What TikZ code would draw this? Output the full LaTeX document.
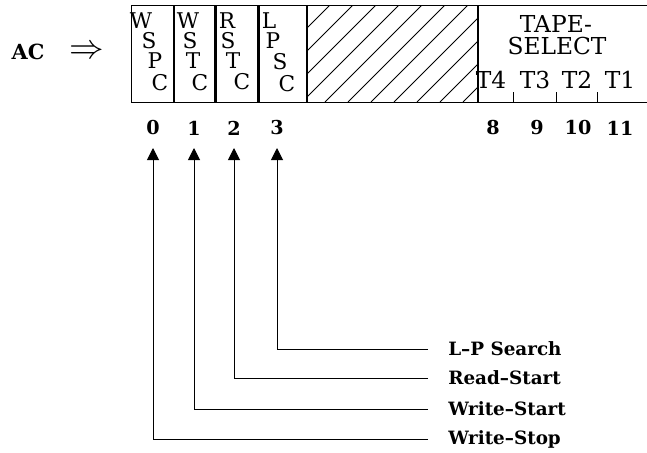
\documentclass[tikz,border=0pt]{standalone}
\usepackage{fontspec}
\setmainfont{DejaVu Serif}
\usetikzlibrary{arrows.meta, positioning}
\tikzset{
    field/.style={
        rectangle,
        draw,
        line width=0.7pt,
        inner sep=0pt,
        minimum height=58.2pt,
        anchor=north west
    },
    ch/.style={
        inner sep=0pt,
        font=\fontsize{13}{14}\selectfont
    },
    tapetxt/.style={
        inner sep=0pt,
        font=\fontsize{14}{15}\selectfont
    },
    bitno/.style={
        inner sep=0pt,
        font=\fontsize{11.5}{13}\selectfont\bfseries
    },
    lbl/.style={
        anchor=west,
        inner sep=0pt,
        font=\fontsize{11}{13}\selectfont\bfseries
    },
    sig/.style={
        -{Triangle[length=7.2pt, width=7.2pt]},
        line width=0.6pt
    }
}

\begin{document}
\begin{tikzpicture}[x=0.6pt, y=-0.6pt]
    \useasboundingbox (0,0) rectangle (647,452);

    % register AC
    \node[font=\fontsize{12.5}{14}\selectfont\bfseries] (ac) at (28,52) {AC};
    \node[inner sep=0pt, font=\fontsize{21}{24}\selectfont] (into) at (87,52) {$\Rightarrow$};

    \node[field, minimum width=25.2pt] (wspc) at (131,5) {};
    \node[field, minimum width=24pt] (wstc) at (wspc.north east) {};
    \node[field, minimum width=25.2pt] (rstc) at (wstc.north east) {};
    \node[field, minimum width=28.2pt] (lpsc) at (rstc.north east) {};
    \node[field, minimum width=102pt] (spare) at (lpsc.north east) {};
    \node[field, minimum width=103.8pt] (tape) at (spare.north east) {};

    % hatching of the unused bits
    \begin{scope}
        \clip (spare.south west) rectangle (spare.north east);
        \foreach \k in {0,...,10}
            \draw[line width=0.6pt] (330+23*\k-97,102) -- (330+23*\k,5);
    \end{scope}

    % field letters
    \node[ch] (w0) at (141,21) {W};
    \node[ch] (s0) at (149,41) {S};
    \node[ch] (p0) at (155,61) {P};
    \node[ch] (c0) at (160,83) {C};

    \node[ch] (w1) at (188,21) {W};
    \node[ch] (s1) at (190,41) {S};
    \node[ch] (t1) at (193,61) {T};
    \node[ch] (c1) at (200,83) {C};

    \node[ch] (r2) at (227,21) {R};
    \node[ch] (s2) at (228,41) {S};
    \node[ch] (t2) at (233,61) {T};
    \node[ch] (c2) at (242,82) {C};

    \node[ch] (l3) at (269,21) {L};
    \node[ch] (p3) at (273,41) {P};
    \node[ch] (s3) at (280,62) {S};
    \node[ch] (c3) at (287,84) {C};

    \node[tapetxt] (tapehd) at (556,24) {TAPE-};
    \node[tapetxt] (selhd) at (557,46) {SELECT};
    \node[tapetxt] (tf) at (491,80) {T4};
    \node[tapetxt] (tt) at (535,80) {T3};
    \node[tapetxt] (ts) at (577,80) {T2};
    \node[tapetxt] (to) at (620,80) {T1};
    \foreach \x in {513,556,597}
        \draw[line width=0.6pt] (\x,92) -- (\x,102);

    % bit numbers
    \node[bitno] (b0) at (153,128) {0};
    \node[bitno] (b1) at (194,128) {1};
    \node[bitno] (b2) at (234,128) {2};
    \node[bitno] (b3) at (277,128) {3};
    \node[bitno] (b8) at (493,128) {8};
    \node[bitno] (b9) at (537,128) {9};
    \node[bitno] (b10) at (578,128) {10};
    \node[bitno] (b11) at (620,128) {11};

    \coordinate (t0) at (b0 |- 0,148);
    \coordinate (t1) at (b1 |- 0,148);
    \coordinate (t2) at (b2 |- 0,148);
    \coordinate (t3) at (b3 |- 0,148);

    % control lines
    \coordinate (e3) at (428,349);
    \coordinate (e2) at (428,378);
    \coordinate (e1) at (428,409);
    \coordinate (e0) at (428,439);

    \node[lbl, right=12pt of e3] (lpsearch) {L--P Search};
    \node[lbl, right=12pt of e2] (rdstart) {Read--Start};
    \node[lbl, right=12pt of e1] (wrstart) {Write--Start};
    \node[lbl, right=12pt of e0] (wrstop) {Write--Stop};

    \draw[sig] (e3) -| (t3);
    \draw[sig] (e2) -| (t2);
    \draw[sig] (e1) -| (t1);
    \draw[sig] (e0) -| (t0);
\end{tikzpicture}
\end{document}
